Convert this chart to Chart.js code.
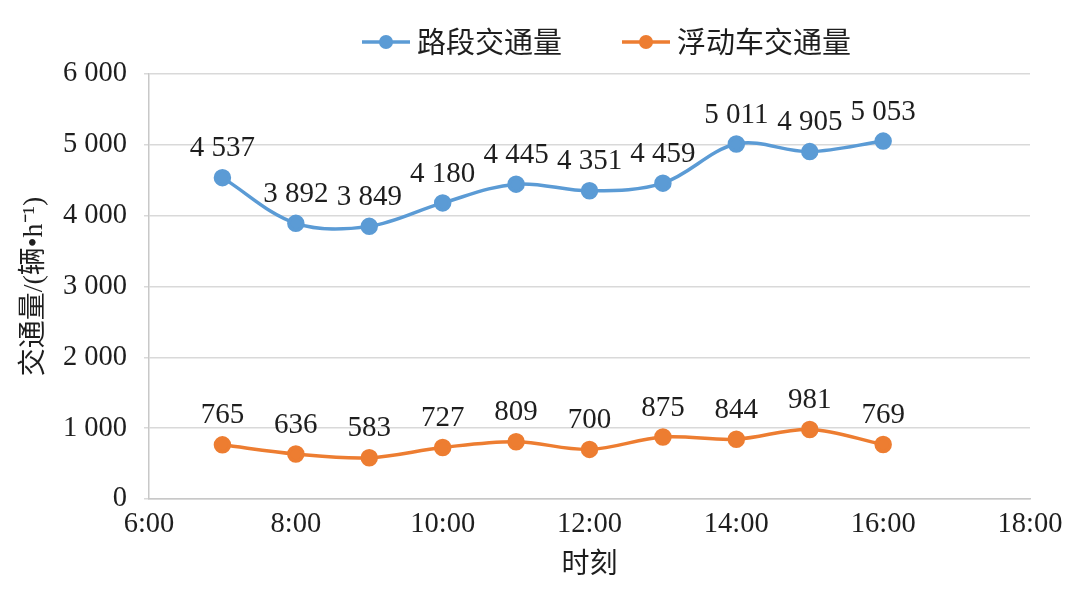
<!DOCTYPE html>
<html>
<head>
<meta charset="utf-8">
<script src="https://cdn.jsdelivr.net/npm/chart.js@4"></script>
<style>
html,body{margin:0;padding:0;background:#fff;}
#wrap{width:1080px;height:591px;}
</style>
</head>
<body>
<div id="wrap"><canvas id="c" width="1080" height="591"></canvas></div>
<script>
// ---- data ----
const hours = [7, 8, 9, 10, 11, 12, 13, 14, 15, 16];
const roadFlow = [4537, 3892, 3849, 4180, 4445, 4351, 4459, 5011, 4905, 5053];
const floatFlow = [765, 636, 583, 727, 809, 700, 875, 844, 981, 769];
const seriesNames = ['路段交通量', '浮动车交通量'];
const seriesColors = ['#5B9BD5', '#ED7D31'];
const xTickMin = 6, xTickMax = 18, xTickStep = 2;
const yTickMin = 0, yTickMax = 6000, yTickStep = 1000;
const xTitle = '时刻';
const yTitle = '交通量/(辆•h⁻¹)';

const fmt = n => String(n).replace(/\B(?=(\d{3})+(?!\d))/g, ' ');
const serif = '"Liberation Serif", "Noto Sans CJK SC", serif';
const cjk = '"Liberation Serif", "Noto Sans CJK SC", sans-serif';
const textColor = '#1e1e1e';

const toPts = arr => hours.map((h, i) => ({x: h, y: arr[i]}));

const dataLabels = {
  id: 'dataLabels',
  afterDatasetsDraw(chart) {
    const ctx = chart.ctx;
    ctx.save();
    ctx.font = '29px ' + serif;
    ctx.fillStyle = textColor;
    ctx.textAlign = 'center';
    ctx.textBaseline = 'middle';
    chart.data.datasets.forEach((ds, di) => {
      const meta = chart.getDatasetMeta(di);
      meta.data.forEach((pt, i) => {
        ctx.fillText(fmt(ds.data[i].y), pt.x, pt.y - 29);
      });
    });
    ctx.restore();
  }
};

const customLegend = {
  id: 'customLegend',
  afterDraw(chart) {
    const ctx = chart.ctx;
    const items = [{x: 362}, {x: 622}];
    const y = 42;
    ctx.save();
    chart.data.datasets.forEach((ds, i) => {
      const x0 = items[i].x;
      ctx.strokeStyle = ds.borderColor;
      ctx.lineWidth = 3.5;
      ctx.beginPath();
      ctx.moveTo(x0, y);
      ctx.lineTo(x0 + 48, y);
      ctx.stroke();
      ctx.fillStyle = ds.backgroundColor;
      ctx.beginPath();
      ctx.arc(x0 + 24, y, 7, 0, Math.PI * 2);
      ctx.fill();
      ctx.fillStyle = textColor;
      ctx.font = '29px "Noto Sans CJK SC", sans-serif';
      ctx.textAlign = 'left';
      ctx.textBaseline = 'middle';
      ctx.fillText(ds.label, x0 + 55, y);
    });
    ctx.restore();
  }
};

new Chart(document.getElementById('c'), {
  type: 'line',
  data: {
    datasets: [
      {label: seriesNames[0], data: toPts(roadFlow), borderColor: seriesColors[0], backgroundColor: seriesColors[0],
       borderWidth: 3.5, pointRadius: 7, pointHoverRadius: 7, tension: 0.35, fill: false},
      {label: seriesNames[1], data: toPts(floatFlow), borderColor: seriesColors[1], backgroundColor: seriesColors[1],
       borderWidth: 3.5, pointRadius: 7, pointHoverRadius: 7, tension: 0.35, fill: false}
    ]
  },
  options: {
    responsive: false,
    animation: false,
    devicePixelRatio: 1,
    layout: {padding: {top: 74, left: 0, right: 50, bottom: 0}},
    plugins: {legend: {display: false}, tooltip: {enabled: false}},
    scales: {
      x: {
        type: 'linear', min: xTickMin, max: xTickMax,
        afterFit: s => { s.height = 92; },
        ticks: {stepSize: xTickStep, padding: 8, color: textColor, font: {family: serif, size: 28.5},
          callback: v => v + ':00', maxRotation: 0},
        grid: {display: false, drawTicks: false},
        border: {display: true, color: '#c8c8c8', width: 1.5},
        title: {display: true, text: xTitle, color: textColor, font: {family: cjk, size: 28}, padding: {top: 0, bottom: 9}}
      },
      y: {
        min: yTickMin, max: yTickMax,
        afterFit: s => { s.width = 149; },
        ticks: {stepSize: yTickStep, padding: 17, color: textColor, font: {family: serif, size: 28.5},
          callback: v => fmt(v)},
        grid: {color: '#d9d9d9', lineWidth: 1.5, tickLength: 5, drawTicks: true},
        border: {display: true, color: '#c8c8c8', width: 1.5},
        title: {display: true, text: yTitle, color: textColor, font: {family: cjk, size: 28}, padding: {top: 18, bottom: 0}}
      }
    }
  },
  plugins: [dataLabels, customLegend]
});
</script>
</body>
</html>
